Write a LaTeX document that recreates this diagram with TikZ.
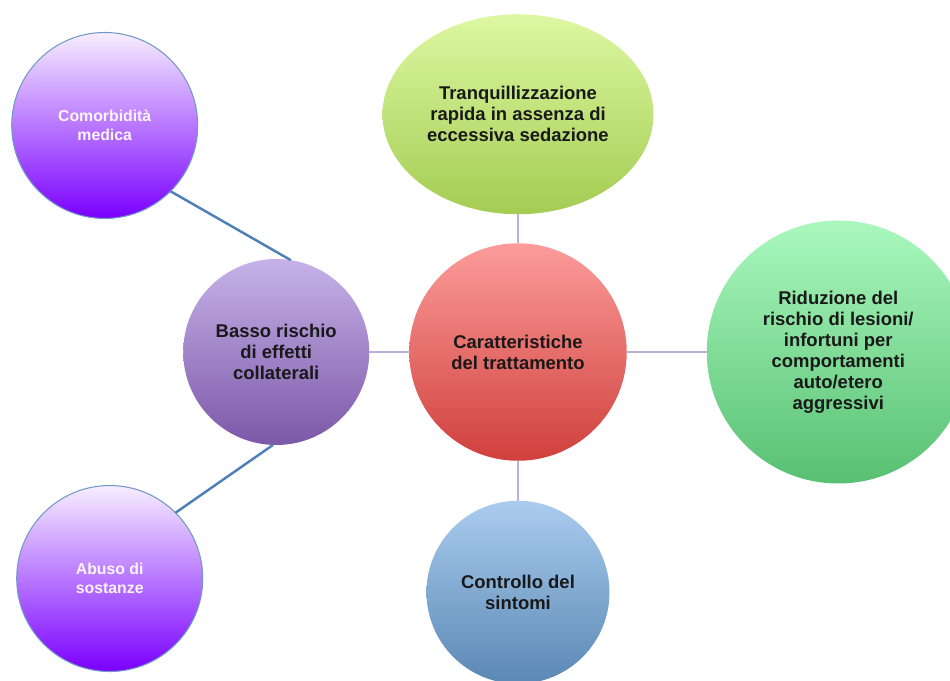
\documentclass[tikz,border=0pt]{standalone}
\usepackage{fontspec}
\setmainfont{Liberation Sans}
\usepackage{xcolor}
\usetikzlibrary{shapes.geometric, positioning}

\definecolor{purpTop}{HTML}{F6EEFF}
\definecolor{purpBot}{HTML}{7A00FF}
\definecolor{lavTop}{HTML}{C6B2E8}
\definecolor{lavBot}{HTML}{7C58A8}
\definecolor{redTop}{HTML}{FB9C9A}
\definecolor{redBot}{HTML}{D0403C}
\definecolor{limeTop}{HTML}{DDF8A2}
\definecolor{limeBot}{HTML}{A4CC52}
\definecolor{mintTop}{HTML}{AAF8BE}
\definecolor{mintBot}{HTML}{58C072}
\definecolor{skyTop}{HTML}{AACCEE}
\definecolor{skyBot}{HTML}{5A88B4}
\definecolor{linkBlue}{HTML}{4F7FB8}
\definecolor{linkLilac}{HTML}{BDAEDC}

\begin{document}
\begin{tikzpicture}[
    bubble/.style={circle, inner sep=2pt, outer sep=0pt, align=center, text=black!90, font=\fontsize{10.5}{12}\selectfont\bfseries},
    outer/.style={bubble, draw=linkBlue!80, line width=0.6pt, top color=purpTop, bottom color=purpBot, text=white!96!purple, font=\fontsize{9}{11}\selectfont\bfseries, minimum size=3.72cm},
    spoke/.style={linkLilac, line width=0.8pt},
    tie/.style={linkBlue, line width=1.4pt},
]

\useasboundingbox (-10.36,-6.56) rectangle (8.64,7.04);

% Centre
\node[bubble, top color=redTop, bottom color=redBot, minimum size=4.35cm] (cara) at (0,0) {Caratteristiche\\del trattamento};

% Spokes around the centre
\node[bubble, top color=lavTop, bottom color=lavBot, minimum size=3.72cm, left=0.8cm of cara] (basso) {Basso rischio\\di effetti\\collaterali};
\node[bubble, ellipse, top color=limeTop, bottom color=limeBot, minimum width=5.42cm, minimum height=4cm, above=0.58cm of cara] (tranq) {Tranquillizzazione\\rapida in assenza di\\eccessiva sedazione};
\node[bubble, top color=mintTop, bottom color=mintBot, minimum size=5.26cm, right=1.6cm of cara] (ridu) {Riduzione del\\rischio di lesioni/\\infortuni per\\comportamenti\\auto/etero\\aggressivi};
\node[bubble, top color=skyTop, bottom color=skyBot, minimum size=3.66cm, below=0.8cm of cara] (contr) {Controllo del\\sintomi};

% Outer ring
\node[outer, above left=1.9cm and 0.8cm of basso] (comorb) {Comorbidità\\medica};
\node[outer, below left=1.9cm and 0.7cm of basso] (abuso) {Abuso di\\sostanze};

\draw[spoke] (cara) -- (basso);
\draw[spoke] (cara) -- (tranq);
\draw[spoke] (cara) -- (ridu);
\draw[spoke] (cara) -- (contr);
\draw[tie] (comorb.-45) -- (basso.81);
\draw[tie] (abuso.45) -- (basso.268);

\end{tikzpicture}
\end{document}
